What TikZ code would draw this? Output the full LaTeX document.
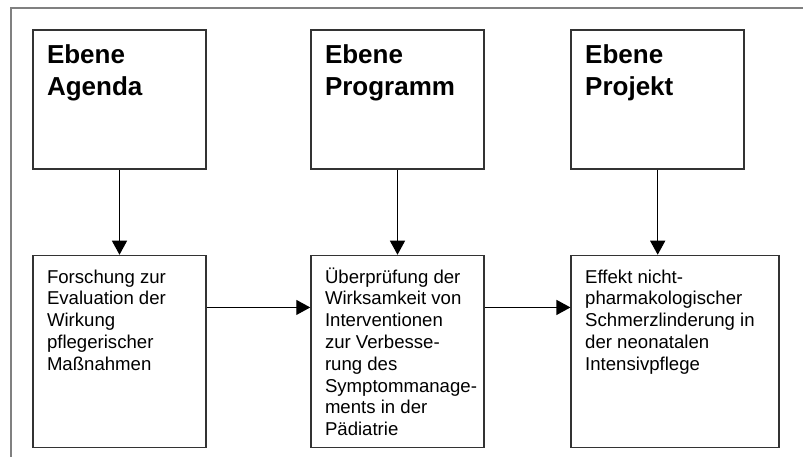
\documentclass[tikz,border=0pt]{standalone}
\usepackage{fontspec}
\setmainfont{Liberation Sans}
\usetikzlibrary{arrows.meta,positioning}
\definecolor{boxgray}{RGB}{51,51,51}
\definecolor{framegray}{RGB}{128,128,128}
\tikzset{
    levelbox/.style={rectangle, draw=boxgray, line width=0.75pt, inner xsep=7pt, inner ysep=5pt, font=\fontsize{13}{15.8}\selectfont\bfseries},
    topicbox/.style={rectangle, draw=boxgray, line width=0.75pt, inner xsep=7pt, inner ysep=4.85pt, font=\fontsize{9.3}{10.9}\selectfont},
    arrow/.style={line width=0.6pt, -{Triangle[length=7pt,width=7.5pt]}},
    frameline/.style={draw=framegray, line width=0.75pt}
}

\begin{document}
\begin{tikzpicture}[x=0.5pt, y=0.5pt]
\useasboundingbox (0,0) rectangle (803,465);

% Outer frame (top and left edge)
\draw[frameline] (803,457) -- (11,457) -- (11,8);

% Level boxes (top row)
\node[levelbox] (agenda) at (119.5,365.5) {\parbox[c][59.5pt][t]{72.5pt}{\raggedright\rule{0pt}{12pt}Ebene\\Agenda}};
\node[levelbox, right=51.75pt of agenda] (programm) {\parbox[c][59.5pt][t]{72.5pt}{\raggedright\rule{0pt}{12pt}Ebene\\Programm}};
\node[levelbox, right=42.85pt of programm] (projekt) {\parbox[c][59.5pt][t]{72.5pt}{\raggedright\rule{0pt}{12pt}Ebene\\Projekt}};

% Topic boxes (bottom row)
\node[topicbox, below=42.5pt of agenda] (forschung) {\parbox[c][86.3pt][t]{72.5pt}{\raggedright\rule{0pt}{9pt}Forschung zur\\Evaluation der\\Wirkung\\pflegerischer\\Maßnahmen}};
\node[topicbox, below=42.5pt of programm] (ueberpruefung) {\parbox[c][86.3pt][t]{72.5pt}{\raggedright\rule{0pt}{9pt}Überprüfung der\\Wirksamkeit von\\Interventionen\\zur Verbesse-\\rung des\\\mbox{Symptommanage-}\\ments in der\\Pädiatrie}};
\node[topicbox, below=42.5pt of projekt.south west, anchor=north west] (effekt) {\parbox[c][86.3pt][t]{90pt}{\raggedright\rule{0pt}{9pt}Effekt nicht-\\pharmakologischer\\Schmerzlinderung in\\der neonatalen\\Intensivpflege}};

% Vertical arrows
\draw[arrow] (agenda) -- (forschung);
\draw[arrow] (programm) -- (ueberpruefung);
\draw[arrow] (projekt.south) -- (projekt.south |- effekt.north);

% Horizontal arrows
\draw[arrow] ([yshift=-26.35pt]forschung.north east) -- ([yshift=-26.35pt]ueberpruefung.north west);
\draw[arrow] ([yshift=-26.35pt]ueberpruefung.north east) -- ([yshift=-26.35pt]effekt.north west);

\end{tikzpicture}
\end{document}
